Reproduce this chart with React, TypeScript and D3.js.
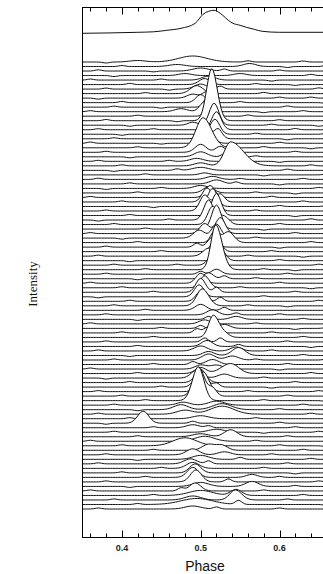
import { useEffect, useRef } from "react";
import * as d3 from "d3";

// integrated profile
const avgPhase = [0.35, 0.42, 0.44, 0.457, 0.475, 0.493, 0.503, 0.51, 0.517, 0.523, 0.528, 0.535, 0.541, 0.55, 0.558, 0.568, 0.578, 0.6, 0.7];
const avgValue = [0, 1, 1.5, 3, 5, 10, 19, 22, 23, 21, 18, 13, 10, 8, 6, 4, 2, 1, 1];

// single pulses, top to bottom: [phase, height, widthLeft, widthRight?]
const pulses: number[][][] = [
  [[0.49, 6, 0.018], [0.42, 1.5, 0.01], [0.56, 1.2], [0.38, -1], [0.63, 1]],
  [[0.47, 2, 0.01], [0.562, 3, 0.008], [0.4, 1], [0.61, -1], [0.66, 1.5]],
  [[0.5, 3, 0.01], [0.53, 2], [0.37, 1.2], [0.44, -0.8], [0.6, 1]],
  [[0.48, 2, 0.008], [0.55, 2, 0.008], [0.39, -1], [0.64, 1.2]],
  [[0.51, 4, 0.008], [0.36, 1], [0.45, 1], [0.59, -1], [0.67, 1]],
  [[0.505, 6, 0.007], [0.41, 1.2], [0.57, 1], [0.62, -0.8]],
  [[0.5, 5, 0.008], [0.525, 3], [0.38, 1], [0.46, -1], [0.65, 1.2]],
  [[0.495, 8, 0.008], [0.43, 1], [0.58, 1.2], [0.68, -1]],
  [[0.49, 4, 0.007], [0.507, 6, 0.005], [0.37, -1], [0.6, 1], [0.64, 1]],
  [[0.5, 8, 0.006], [0.4, 1.2], [0.55, 1], [0.66, -1]],
  [[0.51, 12, 0.005], [0.39, 1], [0.45, -1], [0.61, 1.2]],
  [[0.505, 10, 0.006], [0.475, 3, 0.008], [0.36, 1], [0.58, -1], [0.63, 1]],
  [[0.512, 20, 0.005], [0.42, 1], [0.56, 1.2], [0.67, 1]],
  [[0.514, 52, 0.0065, 0.007], [0.38, 1.2], [0.47, -1], [0.6, 1]],
  [[0.517, 22, 0.006], [0.49, 3, 0.006], [0.41, -1], [0.59, 1], [0.65, -1]],
  [[0.52, 18, 0.006], [0.37, 1], [0.44, 1], [0.62, 1.2]],
  [[0.518, 15, 0.006], [0.4, -1], [0.57, 1], [0.66, 1]],
  [[0.505, 14, 0.006], [0.522, 10, 0.005], [0.39, 1], [0.61, -1]],
  [[0.508, 16, 0.007], [0.36, 1.2], [0.45, -0.8], [0.6, 1]],
  [[0.503, 30, 0.009, 0.011], [0.42, 1], [0.58, 1.2], [0.64, -1]],
  [[0.5, 8, 0.007], [0.525, 6, 0.006], [0.38, 1], [0.62, 1]],
  [[0.5, 5, 0.008], [0.53, 3], [0.41, -1], [0.57, 1], [0.67, 1]],
  [[0.495, 3, 0.008], [0.37, 1], [0.46, 1], [0.6, -1]],
  [[0.538, 24, 0.008, 0.016], [0.5, 3, 0.008], [0.4, 1], [0.64, 1]],
  [[0.5, 3, 0.01], [0.47, 1.5], [0.39, -1], [0.61, 1.2]],
  [[0.505, 2, 0.006], [0.43, 1], [0.58, -1], [0.66, 1]],
  [[0.515, 3, 0.008], [0.37, 1.2], [0.55, 1], [0.63, 1]],
  [[0.52, 4, 0.008], [0.545, 2], [0.41, 1], [0.6, -1]],
  [[0.5, 3, 0.008], [0.38, -1], [0.45, 1], [0.65, 1]],
  [[0.51, 6, 0.007], [0.42, 1], [0.57, 1], [0.62, -1]],
  [[0.512, 12, 0.006], [0.36, 1], [0.59, 1.2], [0.67, -1]],
  [[0.508, 14, 0.006], [0.525, 8, 0.005], [0.4, 1], [0.63, 1]],
  [[0.515, 18, 0.006], [0.44, -1], [0.6, 1], [0.66, 1]],
  [[0.505, 16, 0.006], [0.52, 12, 0.005], [0.38, 1], [0.57, 1]],
  [[0.52, 22, 0.006], [0.41, 1], [0.62, -1]],
  [[0.51, 20, 0.006], [0.37, -1], [0.46, 1], [0.64, 1.2]],
  [[0.515, 18, 0.006], [0.53, 8, 0.006], [0.39, 1], [0.6, 1]],
  [[0.52, 24, 0.006], [0.43, 1], [0.58, -1], [0.66, 1]],
  [[0.505, 10, 0.006], [0.525, 16, 0.006], [0.36, 1], [0.62, 1]],
  [[0.498, 8, 0.007], [0.52, 14, 0.006], [0.4, -1], [0.57, 1]],
  [[0.535, 11, 0.007], [0.518, 12, 0.005], [0.42, 1], [0.64, 1]],
  [[0.515, 10, 0.006], [0.495, 4], [0.38, 1], [0.6, -1], [0.67, 1]],
  [[0.52, 14, 0.006], [0.45, 1], [0.59, 1]],
  [[0.51, 8, 0.007], [0.37, 1], [0.56, 1], [0.63, -1]],
  [[0.525, 12, 0.006], [0.41, -1], [0.6, 1]],
  [[0.515, 10, 0.006], [0.39, 1], [0.47, 1], [0.65, 1]],
  [[0.519, 45, 0.006, 0.008], [0.43, 1], [0.58, 1], [0.62, -1]],
  [[0.52, 5, 0.006], [0.5, 3], [0.38, 1], [0.61, 1]],
  [[0.51, 6, 0.006], [0.53, 3], [0.42, -1], [0.57, 1], [0.66, 1]],
  [[0.5, 10, 0.006], [0.36, 1], [0.6, 1]],
  [[0.505, 12, 0.006], [0.4, 1], [0.55, 1], [0.64, -1]],
  [[0.5, 14, 0.006], [0.52, 5], [0.44, 1], [0.62, 1]],
  [[0.498, 12, 0.006], [0.37, -1], [0.58, 1]],
  [[0.5, 10, 0.006], [0.525, 4], [0.41, 1], [0.65, 1]],
  [[0.502, 17, 0.007, 0.008], [0.39, 1], [0.56, 1], [0.61, -1]],
  [[0.5, 6, 0.007], [0.53, 3], [0.43, 1], [0.67, 1]],
  [[0.515, 5, 0.007], [0.545, 2], [0.38, 1], [0.6, 1]],
  [[0.51, 3], [0.545, 3, 0.007], [0.42, -1], [0.63, 1]],
  [[0.505, 4, 0.007], [0.36, 1], [0.57, 1]],
  [[0.5, 3], [0.53, 4, 0.007], [0.45, 1], [0.62, -1], [0.66, 1]],
  [[0.51, 6, 0.006], [0.495, 4], [0.4, 1], [0.59, 1]],
  [[0.516, 22, 0.006, 0.007], [0.53, 4, 0.006], [0.44, 1], [0.63, 1]],
  [[0.505, 4], [0.525, 4], [0.38, 1], [0.61, 1]],
  [[0.508, 6, 0.007], [0.548, 2], [0.42, 1], [0.64, -1]],
  [[0.5, 5, 0.008], [0.545, 4, 0.007], [0.37, 1], [0.59, 1]],
  [[0.548, 8, 0.008], [0.51, 4, 0.007], [0.41, -1], [0.63, 1]],
  [[0.51, 6, 0.008], [0.54, 4, 0.008], [0.39, 1], [0.57, 1], [0.66, 1]],
  [[0.515, 5, 0.008], [0.49, 3], [0.44, 1], [0.61, 1]],
  [[0.52, 4, 0.008], [0.5, 4, 0.007], [0.36, 1], [0.6, -1]],
  [[0.538, 10, 0.012, 0.01], [0.5, 6, 0.007], [0.42, 1], [0.64, 1]],
  [[0.495, 8, 0.007], [0.53, 4, 0.008], [0.38, -1], [0.58, 1]],
  [[0.5, 12, 0.007], [0.41, 1], [0.62, 1]],
  [[0.5, 18, 0.007], [0.52, 4], [0.45, 1], [0.59, -1]],
  [[0.503, 20, 0.007], [0.37, 1], [0.56, 1], [0.65, 1]],
  [[0.498, 28, 0.007], [0.515, 8, 0.005], [0.4, 1], [0.61, 1]],
  [[0.497, 34, 0.0075, 0.007], [0.43, 1], [0.58, 1], [0.66, -1]],
  [[0.478, 3, 0.008], [0.52, 4, 0.01], [0.39, 1], [0.63, 1]],
  [[0.475, 5, 0.009], [0.527, 6, 0.012], [0.42, -1], [0.6, 1]],
  [[0.527, 8, 0.015], [0.48, 4, 0.01], [0.37, 1], [0.64, 1]],
  [[0.5, 3, 0.01], [0.41, 1], [0.57, 1], [0.67, 1]],
  [[0.427, 12, 0.007], [0.49, 2], [0.6, 1], [0.38, -1]],
  [[0.49, 3, 0.008], [0.51, 2], [0.44, 1], [0.62, 1]],
  [[0.52, 3, 0.01], [0.39, 1], [0.58, -1], [0.65, 1]],
  [[0.538, 7, 0.008], [0.5, 3, 0.01], [0.42, 1], [0.61, 1]],
  [[0.505, 5, 0.012], [0.36, 1], [0.57, 1]],
  [[0.48, 8, 0.015], [0.4, 1], [0.6, 1], [0.66, -1]],
  [[0.51, 6, 0.008], [0.527, 5, 0.007], [0.44, 1], [0.63, 1]],
  [[0.49, 6, 0.008], [0.53, 3, 0.008], [0.38, 1], [0.59, 1]],
  [[0.5, 4, 0.01], [0.55, 2], [0.42, -1], [0.64, 1]],
  [[0.487, 5, 0.008], [0.51, 3], [0.37, 1], [0.61, 1]],
  [[0.49, 6, 0.008], [0.45, 1], [0.58, 1], [0.67, 1]],
  [[0.493, 9, 0.007], [0.4, 1], [0.62, -1]],
  [[0.49, 10, 0.007], [0.565, 3, 0.007], [0.43, 1], [0.6, 1]],
  [[0.494, 12, 0.007], [0.535, 3], [0.38, 1], [0.65, 1]],
  [[0.565, 5, 0.008], [0.5, 4, 0.01], [0.41, -1], [0.62, 1]],
  [[0.493, 8, 0.007], [0.475, 3], [0.36, 1], [0.58, 1]],
  [[0.545, 6, 0.007], [0.5, 5, 0.015], [0.44, 1], [0.63, 1]],
  [[0.544, 10, 0.007, 0.008], [0.49, 4, 0.01], [0.39, 1], [0.61, 1]],
  [[0.495, 6, 0.02], [0.548, 4], [0.42, 1], [0.66, -1]],
  [[0.49, 3, 0.01], [0.52, 2], [0.37, 1], [0.6, 1]],
];

const majorTicks = [0.4, 0.5, 0.6];
const minorTicks = [0.36, 0.38, 0.42, 0.44, 0.46, 0.48, 0.52, 0.54, 0.56, 0.58, 0.62, 0.64, 0.66, 0.68];

export default function App() {
  const svgRef = useRef<SVGSVGElement>(null);

  useEffect(() => {
    const width = 323;
    const height = 574;
    const top = 7.5;
    const bottom = 537.5;

    const svg = d3.select(svgRef.current);
    svg.selectAll("*").remove();

    const x = d3.scaleLinear().domain([0.35, 0.6]).range([82.5, 279.5]);
    const base = d3.scaleLinear().domain([0, pulses.length - 1]).range([62, 509]);
    const amp = d3.scaleLinear().domain([0, 50]).range([0, 50]);
    const avgBase = 33.3;

    // evaluate a pulse from its components on a phase grid
    const grid = d3.range(0.35, 0.7001, 0.002);
    const profile = (comps: number[][]) =>
      grid.map((p) => {
        let v = 0;
        comps.forEach((c) => {
          const sl = c[2] ?? 0.004;
          const sr = c[3] ?? sl;
          const s = p < c[0] ? sl : sr;
          v += c[1] * Math.exp(-((p - c[0]) ** 2) / (2 * s * s));
        });
        return [p, v] as [number, number];
      });

    const g = svg.append("g");

    const drawTrace = (pts: [number, number][], y0: number, curve: d3.CurveFactory) => {
      const area = d3
        .area<[number, number]>()
        .x((d) => x(d[0]))
        .y0(y0)
        .y1((d) => y0 - amp(d[1]))
        .curve(curve);
      const line = d3
        .line<[number, number]>()
        .x((d) => x(d[0]))
        .y((d) => y0 - amp(d[1]))
        .curve(curve);
      g.append("path").attr("d", area(pts)).attr("fill", "#fff").attr("stroke", "none");
      g.append("path")
        .attr("d", line(pts))
        .attr("fill", "none")
        .attr("stroke", "#111")
        .attr("stroke-width", 1);
    };

    drawTrace(
      avgPhase.map((p, i) => [p, avgValue[i]] as [number, number]),
      avgBase,
      d3.curveMonotoneX
    );

    pulses.forEach((comps, i) => {
      drawTrace(profile(comps), base(i), d3.curveLinear);
    });

    // frame
    svg
      .append("rect")
      .attr("x", x(0.35))
      .attr("y", top)
      .attr("width", x(0.7) - x(0.35))
      .attr("height", bottom - top)
      .attr("fill", "none")
      .attr("stroke", "#000")
      .attr("stroke-width", 1);

    const ticks = svg.append("g").attr("stroke", "#000").attr("stroke-width", 1);
    [...majorTicks.map((t) => [t, 7]), ...minorTicks.map((t) => [t, 4])].forEach(([t, len]) => {
      const xx = Math.round(x(t)) + 0.5;
      ticks.append("line").attr("x1", xx).attr("x2", xx).attr("y1", bottom).attr("y2", bottom - len);
      ticks.append("line").attr("x1", xx).attr("x2", xx).attr("y1", top).attr("y2", top + len);
    });

    svg
      .append("g")
      .selectAll("text")
      .data(majorTicks)
      .join("text")
      .attr("x", (d) => x(d))
      .attr("y", 551)
      .attr("text-anchor", "middle")
      .attr("font-family", "'Liberation Sans', Arial, sans-serif")
      .attr("font-size", 9)
      .attr("font-weight", "bold")
      .attr("fill", "#222")
      .text((d) => d3.format(".1f")(d));

    svg
      .append("text")
      .attr("x", 205)
      .attr("y", 571)
      .attr("text-anchor", "middle")
      .attr("font-family", "'Liberation Sans', Arial, sans-serif")
      .attr("font-size", 14)
      .attr("fill", "#111")
      .text("Phase");

    svg
      .append("text")
      .attr("transform", "translate(37,284) rotate(-90)")
      .attr("text-anchor", "middle")
      .attr("font-family", "'Liberation Serif', 'Times New Roman', serif")
      .attr("font-size", 13)
      .attr("fill", "#111")
      .text("Intensity");

    svg.attr("width", width).attr("height", height);
  }, []);

  return (
    <svg
      ref={svgRef}
      width={323}
      height={574}
      style={{ position: "absolute", left: 0, top: 0, background: "#fff" }}
    />
  );
}
